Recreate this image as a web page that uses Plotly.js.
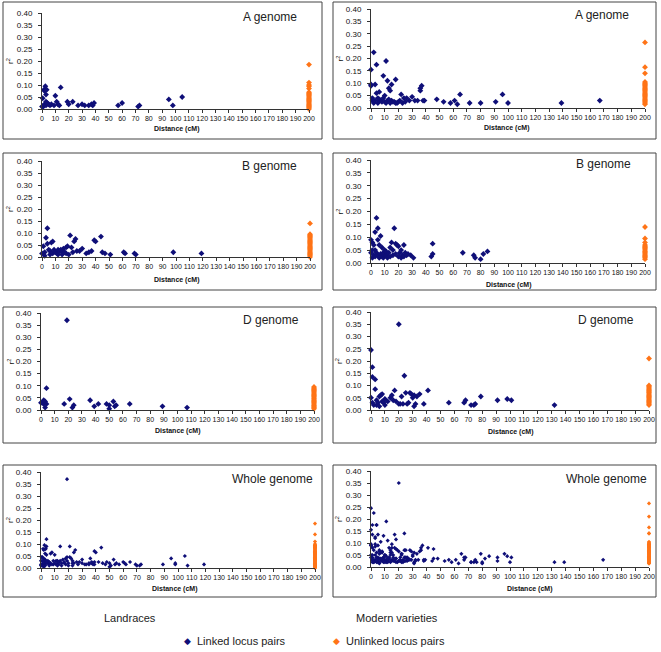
<!DOCTYPE html>
<html><head><meta charset="utf-8">
<script src="https://cdn.plot.ly/plotly-3.0.1.min.js"></script>
<style>html,body{margin:0;padding:0;background:#fff}#chart{width:661px;height:652px}</style>
</head><body><div id="chart"></div>
<script>
// Landraces, A genome
const LA_x=[0,0.5,1,1,1.5,2,2,2.5,3,3,3,3.5,4,5,6,7,9,10,11,12,13,14,19,20,23,27,30,32,35,37,38,39,57,60,72,73,95,98,105];
const LA_y=[0.01,0.045,0.015,0.01,0.08,0.075,0.02,0.095,0.06,0.03,0.015,0.08,0.025,0.02,0.015,0.02,0.015,0.055,0.03,0.02,0.015,0.09,0.03,0.02,0.03,0.015,0.02,0.015,0.015,0.02,0.015,0.025,0.015,0.025,0.01,0.015,0.04,0.015,0.05];
const LA_u=[0.185,0.11,0.10,0.095,0.085,0.07,0.065,0.06,0.055,0.05,0.045,0.04,0.035,0.03,0.025,0.02,0.015,0.01,0.005,0.0];
// Modern varieties, A genome
const RA_x=[0,0,0,1,1,2,2,3,3,4,4,5,5,6,6,7,8,9,9,10,10,11,11,12,12,13,13,14,14,15,15,16,17,18,18,19,20,21,22,23,24,25,26,28,30,32,34,36,36,37,38,39,48,53,58,61,63,65,72,80,91,96,100,139,167];
const RA_y=[0.155,0.095,0.09,0.03,0.04,0.225,0.02,0.095,0.03,0.175,0.06,0.04,0.02,0.065,0.035,0.03,0.025,0.13,0.04,0.05,0.025,0.19,0.02,0.11,0.03,0.08,0.035,0.07,0.02,0.095,0.03,0.025,0.025,0.115,0.02,0.02,0.025,0.03,0.055,0.02,0.04,0.025,0.04,0.03,0.045,0.03,0.03,0.07,0.08,0.09,0.03,0.03,0.035,0.025,0.02,0.03,0.015,0.055,0.02,0.02,0.025,0.055,0.02,0.02,0.03];
const RA_u=[0.265,0.165,0.14,0.105,0.10,0.095,0.09,0.085,0.08,0.075,0.07,0.065,0.06,0.055,0.05,0.045,0.04,0.035,0.03,0.025,0.02,0.015];
// Landraces, B genome
const LB_x=[0,1,2,2,3,4,4,5,6,6,7,8,8,9,10,11,12,12,13,14,15,15,16,17,18,18,19,20,21,22,23,24,25,26,28,30,33,35,37,39,40,44,45,47,51,61,62,69,70,98,119];
const LB_y=[0.015,0.045,0.02,0.005,0.08,0.055,0.12,0.03,0.025,0.01,0.06,0.065,0.015,0.03,0.02,0.015,0.03,0.01,0.025,0.03,0.02,0.01,0.035,0.02,0.04,0.015,0.045,0.01,0.09,0.04,0.02,0.065,0.075,0.025,0.025,0.035,0.015,0.02,0.025,0.07,0.065,0.085,0.02,0.015,0.01,0.02,0.015,0.015,0.01,0.02,0.015];
const LB_u=[0.14,0.095,0.09,0.085,0.08,0.075,0.07,0.065,0.06,0.055,0.05,0.045,0.04,0.035,0.03,0.025,0.02,0.015,0.01,0.005,0.0];
// Modern varieties, B genome
const RB_x=[0,0,1,1,1,2,2,3,3,3,4,4,5,5,5,6,6,7,7,8,8,9,9,10,10,11,11,12,12,13,14,14,15,16,16,17,18,18,19,20,20,21,22,22,23,24,24,25,26,27,29,31,44,45,45,67,75,76,80,82,85];
const RB_y=[0.09,0.04,0.08,0.05,0.02,0.07,0.03,0.12,0.05,0.025,0.175,0.04,0.135,0.09,0.03,0.07,0.02,0.105,0.035,0.06,0.025,0.04,0.02,0.05,0.03,0.03,0.045,0.025,0.02,0.04,0.06,0.025,0.08,0.05,0.03,0.135,0.075,0.035,0.07,0.065,0.025,0.04,0.05,0.02,0.03,0.07,0.025,0.04,0.03,0.035,0.03,0.02,0.025,0.035,0.075,0.04,0.03,0.02,0.015,0.035,0.045];
const RB_u=[0.14,0.095,0.08,0.07,0.065,0.06,0.055,0.05,0.045,0.04,0.035,0.03,0.025,0.02,0.015];
// Landraces, D genome
const LD_x=[0,1,2,2,3,3,4,4,17,19,21,23,24,36,39,42,48,50,50,53,54,55,65,89,107];
const LD_y=[0.03,0.03,0.04,0.025,0.035,0.01,0.09,0.025,0.025,0.37,0.045,0.01,0.02,0.04,0.015,0.025,0.025,0.02,0.005,0.035,0.015,0.02,0.025,0.015,0.01];
const LD_u=[0.095,0.09,0.085,0.08,0.075,0.07,0.065,0.06,0.055,0.05,0.045,0.04,0.035,0.03,0.025,0.02,0.015,0.01,0.005];
// Modern varieties, D genome
const RD_x=[0,0,1,1,1,2,3,3,4,4,5,6,6,7,8,8,9,10,10,12,14,15,16,17,18,20,20,21,22,23,24,25,26,27,28,29,30,31,31,32,33,35,38,41,56,67,68,72,74,75,79,91,98,101,132];
const RD_y=[0.245,0.05,0.175,0.135,0.03,0.02,0.125,0.085,0.04,0.02,0.03,0.055,0.015,0.06,0.065,0.035,0.03,0.02,0.045,0.035,0.05,0.06,0.04,0.08,0.035,0.35,0.025,0.025,0.055,0.025,0.14,0.07,0.025,0.03,0.07,0.065,0.05,0.06,0.015,0.025,0.055,0.065,0.025,0.08,0.03,0.03,0.04,0.02,0.02,0.025,0.055,0.04,0.045,0.04,0.02];
const RD_u=[0.21,0.10,0.095,0.09,0.085,0.08,0.075,0.07,0.065,0.06,0.055,0.05,0.045,0.04,0.035,0.03,0.025,0.02];
// Whole genome = A + B + D
const LW_x=LA_x.concat(LB_x,LD_x), LW_y=LA_y.concat(LB_y,LD_y), LW_u=LA_u.concat(LB_u,LD_u);
const RW_x=RA_x.concat(RB_x,RD_x), RW_y=RA_y.concat(RB_y,RD_y), RW_u=RA_u.concat(RB_u,RD_u);

const UNLINKED_DIST=200;
const xTicks=[0,10,20,30,40,50,60,70,80,90,100,110,120,130,140,150,160,170,180,190,200];
const yTicks=[0,0.05,0.10,0.15,0.20,0.25,0.30,0.35,0.40];
const genomeLabels=['A genome','B genome','D genome','Whole genome'];
const colLabels=['Landraces','Modern varieties'];
const legendLabels=['Linked locus pairs','Unlinked locus pairs'];

const W=661,H=652;
const NAVY='#0f0f78', ORANGE='#ff7417';
const panels=[
 {t:0,lx:LA_x,ly:LA_y,u:LA_u,x0:42,x1:309,yt:13,yb:109,box:[3,2,322,139],tp:[270,17],dp:[177,129],rx:10,ms:4.5},
 {t:0,lx:RA_x,ly:RA_y,u:RA_u,x0:371,x1:645,yt:9,yb:108,box:[333,2,656,139],tp:[602,15],dp:[507,128],rx:339,ms:4.5},
 {t:1,lx:LB_x,ly:LB_y,u:LB_u,x0:42,x1:310,yt:161,yb:257,box:[3,153,322,290],tp:[269,166],dp:[177,280],rx:10,ms:4.5},
 {t:1,lx:RB_x,ly:RB_y,u:RB_u,x0:371,x1:645,yt:160,yb:263,box:[333,153,656,290],tp:[603,164],dp:[509,285],rx:339,ms:4.5},
 {t:2,lx:LD_x,ly:LD_y,u:LD_u,x0:41,x1:314,yt:313,yb:410,box:[3,307,322,443],tp:[271,320],dp:[178,431],rx:10,ms:4.5},
 {t:2,lx:RD_x,ly:RD_y,u:RD_u,x0:371,x1:649,yt:312,yb:410,box:[333,307,656,443],tp:[606,320],dp:[511,432],rx:339,ms:4.5},
 {t:3,lx:LW_x,ly:LW_y,u:LW_u,x0:41,x1:315,yt:472,yb:568,box:[3,465,322,597],tp:[272,479],dp:[175,589],rx:10,ms:3.2},
 {t:3,lx:RW_x,ly:RW_y,u:RW_u,x0:371,x1:649,yt:471,yb:567,box:[333,465,656,597],tp:[606,479],dp:[530,589],rx:339,ms:3.2}
];
const px=v=>v/W, py=v=>1-v/H;
const FONT='Liberation Sans, Arial, sans-serif';
const data=[], shapes=[], annotations=[];
const layout={width:W,height:H,margin:{l:0,r:0,t:0,b:0},paper_bgcolor:'#fff',plot_bgcolor:'rgba(0,0,0,0)',showlegend:false,font:{family:FONT,color:'#111'}};
panels.forEach((p,i)=>{
  const k=i===0?'':String(i+1);
  layout['xaxis'+k]={domain:[px(p.x0),px(p.x1)],range:[0,200],anchor:'y'+k,tickvals:xTicks,tickangle:0,
    showline:true,linecolor:'#333',linewidth:1,ticks:'outside',ticklen:3,tickcolor:'#333',showgrid:false,zeroline:false,
    tickfont:{size:7,family:FONT,color:'#111'},fixedrange:true};
  layout['yaxis'+k]={domain:[py(p.yb),py(p.yt)],range:[0,0.4],anchor:'x'+k,tickvals:yTicks,tickformat:'.2f',
    showline:true,linecolor:'#333',linewidth:1,ticks:'outside',ticklen:3,tickcolor:'#333',showgrid:false,zeroline:false,
    tickfont:{size:8,family:FONT,color:'#111'},ticklabelstandoff:4,fixedrange:true};
  data.push({type:'scatter',mode:'markers',x:p.lx,y:p.ly,xaxis:'x'+k,yaxis:'y'+k,cliponaxis:false,
    marker:{symbol:'diamond',size:p.ms,color:NAVY,line:{width:0}}});
  data.push({type:'scatter',mode:'markers',x:p.u.map(()=>UNLINKED_DIST),y:p.u,xaxis:'x'+k,yaxis:'y'+k,cliponaxis:false,
    marker:{symbol:'diamond',size:p.ms,color:ORANGE,line:{width:0}}});
  shapes.push({type:'rect',xref:'paper',yref:'paper',x0:px(p.box[0]),x1:px(p.box[2]),y0:py(p.box[3]),y1:py(p.box[1]),line:{color:'#444',width:1}});
  annotations.push({xref:'paper',yref:'paper',x:px(p.tp[0]),y:py(p.tp[1]),text:genomeLabels[p.t],showarrow:false,xanchor:'center',yanchor:'middle',font:{size:12,family:FONT,color:'#222'}});
  annotations.push({xref:'paper',yref:'paper',x:px(p.dp[0]),y:py(p.dp[1]),text:'<b>Distance (cM)</b>',showarrow:false,xanchor:'center',yanchor:'middle',font:{size:7,family:FONT,color:'#111'}});
  annotations.push({xref:'paper',yref:'y'+k,x:px(p.rx),y:0.2,text:'r<sup>2</sup>',textangle:-90,showarrow:false,xanchor:'center',yanchor:'middle',font:{size:8,family:FONT,color:'#111'}});
});
annotations.push({xref:'paper',yref:'paper',x:px(130),y:py(618),text:colLabels[0],showarrow:false,xanchor:'center',yanchor:'middle',font:{size:11,family:FONT,color:'#222'}});
annotations.push({xref:'paper',yref:'paper',x:px(397),y:py(618),text:colLabels[1],showarrow:false,xanchor:'center',yanchor:'middle',font:{size:11,family:FONT,color:'#222'}});
annotations.push({xref:'paper',yref:'paper',x:px(187),y:py(641),text:'◆',showarrow:false,xanchor:'center',yanchor:'middle',font:{size:9,family:'DejaVu Sans',color:NAVY}});
annotations.push({xref:'paper',yref:'paper',x:px(195),y:py(641),text:legendLabels[0],showarrow:false,xanchor:'left',yanchor:'middle',font:{size:11,family:FONT,color:'#222'}});
annotations.push({xref:'paper',yref:'paper',x:px(336),y:py(641),text:'◆',showarrow:false,xanchor:'center',yanchor:'middle',font:{size:9,family:'DejaVu Sans',color:ORANGE}});
annotations.push({xref:'paper',yref:'paper',x:px(344),y:py(641),text:legendLabels[1],showarrow:false,xanchor:'left',yanchor:'middle',font:{size:11,family:FONT,color:'#222'}});
layout.shapes=shapes; layout.annotations=annotations;
Plotly.newPlot('chart',data,layout,{displayModeBar:false,staticPlot:true});
</script></body></html>
